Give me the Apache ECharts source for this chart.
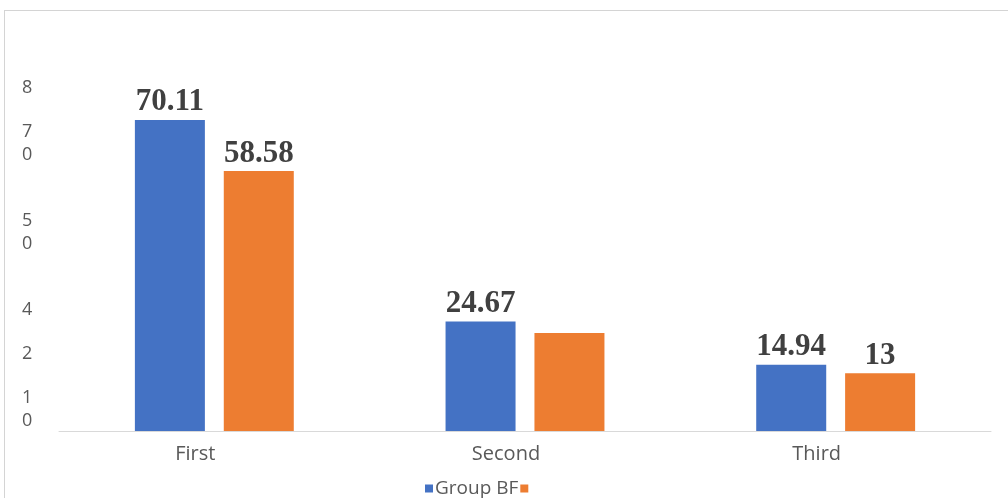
<!DOCTYPE html>
<html>
<head>
<meta charset="utf-8">
<script src="https://cdn.jsdelivr.net/npm/echarts@6/dist/echarts.min.js"></script>
<style>
html,body{margin:0;padding:0;background:#fff;}
#frame{position:absolute;left:4px;top:10px;width:1004px;height:488px;border-top:1px solid #d4d4d4;border-left:1px solid #d4d4d4;box-sizing:border-box;}
#chart{position:absolute;left:0;top:0;width:1008px;height:498px;}
</style>
</head>
<body>
<div id="frame"></div>
<div id="chart"></div>
<script>
const categories = ['First', 'Second', 'Third'];
const seriesNames = ['Group BF', ' '];
const groupBF = [70.11, 24.67, 14.94];
const groupB2 = [58.58, 22.1, 13];
const labelTexts1 = ['70.11', '24.67', '14.94'];
const labelTexts2 = ['58.58', '', '13'];
const yTickLabels = {80: '8', 70: '7\n0', 50: '5\n0', 30: '4', 20: '2', 10: '1\n0'};

const chart = echarts.init(document.getElementById('chart'), null, {renderer: 'canvas'});
const labelStyle = {
  show: true,
  position: 'top',
  distance: 2,
  fontFamily: 'Liberation Serif',
  fontWeight: 'bold',
  fontSize: 31,
  color: '#404040'
};
chart.setOption({
  animation: false,
  backgroundColor: 'transparent',
  color: ['#4472C4', '#ED7D31'],
  grid: {left: 59, right: 17, top: 76, bottom: 67, containLabel: false},
  legend: {
    left: 420, top: 474,
    itemWidth: 8, itemHeight: 8, itemGap: 2,
    icon: 'rect',
    textStyle: {fontFamily: 'Open Sans', fontSize: 19, color: '#595959', padding: [6, 0, 0, -3]},
    data: seriesNames
  },
  xAxis: {
    type: 'category',
    data: categories,
    axisLine: {show: true, lineStyle: {color: '#d9d9d9', width: 1}},
    axisTick: {show: false},
    axisLabel: {
      margin: 13,
      fontFamily: 'Open Sans',
      fontSize: 20,
      color: '#595959',
      padding: [0, 38, 0, 0]
    }
  },
  yAxis: {
    type: 'value',
    min: 0, max: 80, interval: 10,
    axisLine: {show: false},
    axisTick: {show: false},
    splitLine: {show: false},
    axisLabel: {
      align: 'left',
      verticalAlign: 'top',
      margin: 37,
      fontFamily: 'Open Sans',
      fontSize: 18,
      lineHeight: 23,
      color: '#595959',
      formatter: function (v) { return yTickLabels[v] || ''; }
    }
  },
  series: [
    {
      name: seriesNames[0],
      type: 'bar',
      data: groupBF,
      barWidth: 70,
      barGap: '27%',
      label: Object.assign({}, labelStyle, {formatter: function (p) { return labelTexts1[p.dataIndex]; }})
    },
    {
      name: seriesNames[1],
      type: 'bar',
      data: groupB2,
      barWidth: 70,
      barGap: '27%',
      label: Object.assign({}, labelStyle, {formatter: function (p) { return labelTexts2[p.dataIndex]; }})
    }
  ]
});
</script>
</body>
</html>
